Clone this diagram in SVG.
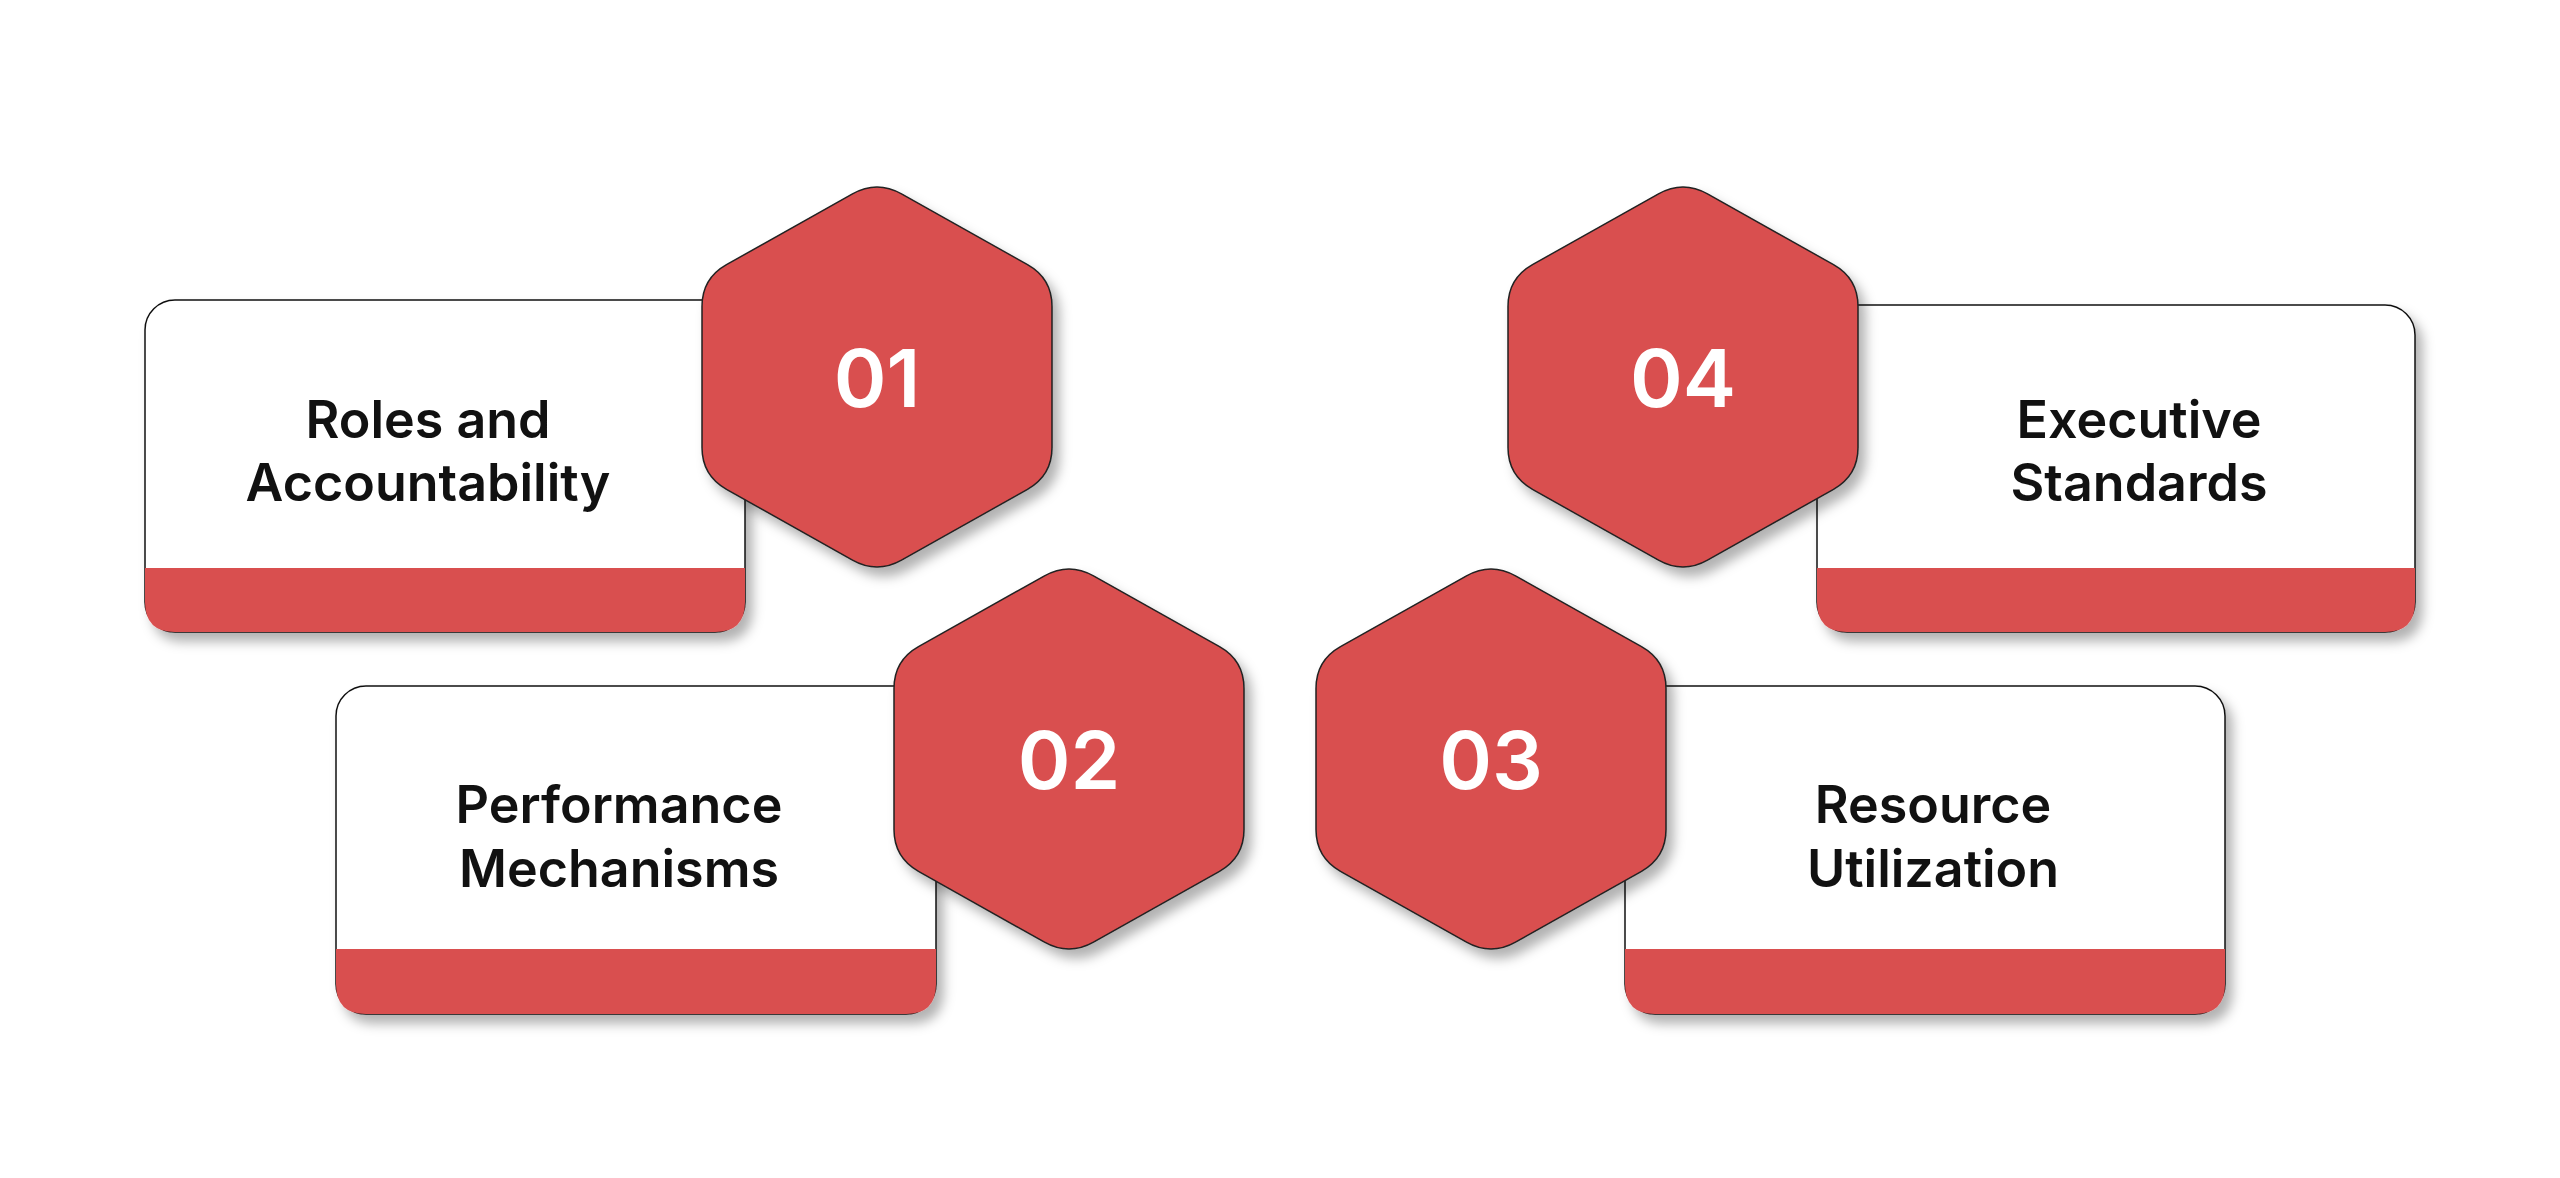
<svg xmlns="http://www.w3.org/2000/svg" width="2560" height="1178" viewBox="0 0 2560 1178">
<style>
.card{fill:#fff;stroke:#111;stroke-width:1.5}
.bar{fill:#D94F4F}
.hex{fill:#D94F4F;stroke:#222;stroke-width:1.5}
.lbl{font-family:Inter,"Liberation Sans",sans-serif;font-weight:600;font-size:52px;fill:#111;text-anchor:middle}
.num{font-family:Inter,"Liberation Sans",sans-serif;font-weight:600;font-size:80px;fill:#fff;text-anchor:middle;dominant-baseline:central}
</style>
<defs>
<filter id="sh" x="-20%" y="-20%" width="150%" height="150%"><feDropShadow dx="7" dy="9" stdDeviation="6" flood-color="#000" flood-opacity="0.3"/></filter>
<path id="hx" d="M-24.5,-183.2 Q0,-197 24.5,-183.2 L150.5,-112.3 Q175,-98.5 175,-70.5 L175,70.5 Q175,98.5 150.5,112.3 L24.5,183.2 Q0,197 -24.5,183.2 L-150.5,112.3 Q-175,98.5 -175,70.5 L-175,-70.5 Q-175,-98.5 -150.5,-112.3 Z"/>
</defs>
<rect width="2560" height="1178" fill="#fff"/>
<g id="connectors"/>
<g id="node1">
<g filter="url(#sh)"><rect class="card" x="145" y="300" width="600" height="332" rx="30"/><path class="bar" d="M145,568 H745 V602 Q745,632 715,632 H175 Q145,632 145,602 Z"/></g>
<text class="lbl" x="428" y="438">Roles and</text><text class="lbl" x="428" y="501">Accountability</text>
<use href="#hx" class="hex" transform="translate(877,377)" filter="url(#sh)"/>
<text class="num" x="877" y="377">01</text>
</g>
<g id="node2">
<g filter="url(#sh)"><rect class="card" x="336" y="686" width="600" height="328" rx="30"/><path class="bar" d="M336,949 H936 V984 Q936,1014 906,1014 H366 Q336,1014 336,984 Z"/></g>
<text class="lbl" x="619" y="823">Performance</text><text class="lbl" x="619" y="887">Mechanisms</text>
<use href="#hx" class="hex" transform="translate(1069,759)" filter="url(#sh)"/>
<text class="num" x="1069" y="759">02</text>
</g>
<g id="node3">
<g filter="url(#sh)"><rect class="card" x="1625" y="686" width="600" height="328" rx="30"/><path class="bar" d="M1625,949 H2225 V984 Q2225,1014 2195,1014 H1655 Q1625,1014 1625,984 Z"/></g>
<text class="lbl" x="1933" y="823">Resource</text><text class="lbl" x="1933" y="887">Utilization</text>
<use href="#hx" class="hex" transform="translate(1491,759)" filter="url(#sh)"/>
<text class="num" x="1491" y="759">03</text>
</g>
<g id="node4">
<g filter="url(#sh)"><rect class="card" x="1817" y="305" width="598" height="327" rx="30"/><path class="bar" d="M1817,568 H2415 V602 Q2415,632 2385,632 H1847 Q1817,632 1817,602 Z"/></g>
<text class="lbl" x="2139" y="438">Executive</text><text class="lbl" x="2139" y="501">Standards</text>
<use href="#hx" class="hex" transform="translate(1683,377)" filter="url(#sh)"/>
<text class="num" x="1683" y="377">04</text>
</g>
</svg>
